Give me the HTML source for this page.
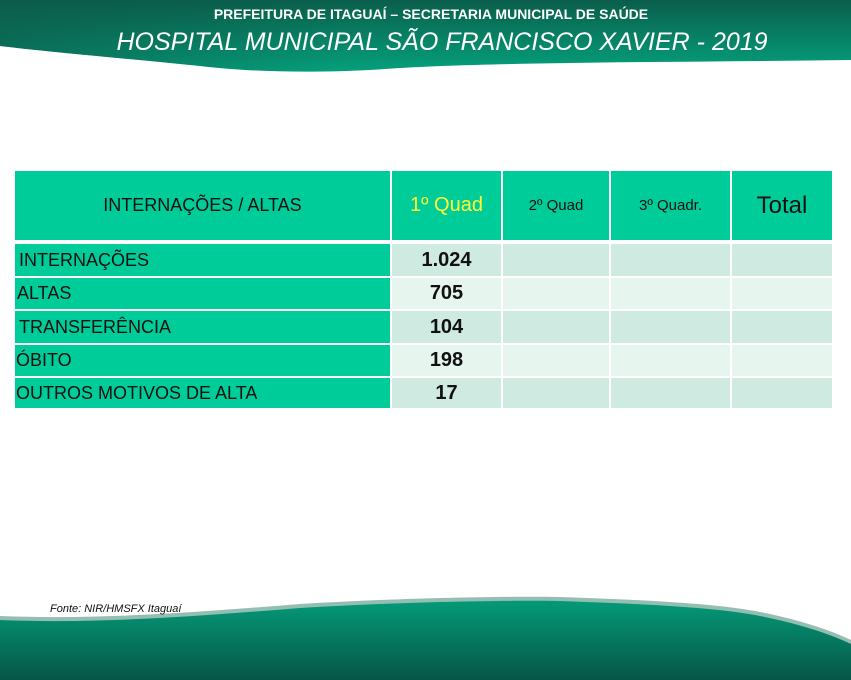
<!DOCTYPE html>
<html><head><meta charset="utf-8"><style>
body{margin:0;width:851px;height:680px;position:relative;overflow:hidden;background:#fff;font-family:"Liberation Sans",sans-serif}
.c{position:absolute;box-sizing:border-box;display:flex;align-items:center}
.t{position:absolute;color:#fff;white-space:nowrap}
</style></head><body>
<svg width="851" height="680" style="position:absolute;left:0;top:0">
<defs>
<linearGradient id="hg" x1="0" y1="0" x2="0" y2="1"><stop offset="0" stop-color="#0a5e4b"/><stop offset="1" stop-color="#05a07c"/></linearGradient>
<linearGradient id="hg2" x1="0" y1="0" x2="1" y2="0"><stop offset="0" stop-color="#0d5a49" stop-opacity=".6"/><stop offset=".4" stop-color="#0d5a49" stop-opacity="0"/></linearGradient>
<linearGradient id="fg" x1="0" y1="0" x2="0" y2="1"><stop offset="0" stop-color="#049a78"/><stop offset="1" stop-color="#075546"/></linearGradient>
</defs>
<path d="M0,0 H851 V60 C700,62 500,62 400,68 C320,74 250,72 200,66 C120,58 50,52 0,46 Z" fill="url(#hg)"/>
<path d="M0,0 H851 V60 C700,62 500,62 400,68 C320,74 250,72 200,66 C120,58 50,52 0,46 Z" fill="url(#hg2)"/>
<path d="M0,616 C100,620 200,612 300,604 C400,598 500,596 560,597 C650,600 720,604 760,612 C800,620 830,630 851,640 V680 H0 Z" fill="#2b7d68" opacity=".5"/>
<path d="M0,620 C100,624 200,616 300,608 C400,602 500,600 560,601 C650,604 720,608 760,616 C800,624 830,634 851,644 V680 H0 Z" fill="url(#fg)"/>
</svg>
<div class="t" style="left:0;width:862px;text-align:center;top:6px;font-size:14px;font-weight:bold">PREFEITURA DE ITAGUAÍ – SECRETARIA MUNICIPAL DE SAÚDE</div>
<div class="t" style="left:0;width:884px;text-align:center;top:28px;font-size:25px;font-style:italic">HOSPITAL MUNICIPAL SÃO FRANCISCO XAVIER - 2019</div>

<div class="c" style="left:15px;top:171px;width:375px;height:69px;background:#00cc99;justify-content:center;font-size:18px;color:#111">INTERNAÇÕES / ALTAS</div>
<div class="c" style="left:392px;top:171px;width:109px;height:69px;background:#00cc99;justify-content:center;font-size:20px;color:#ffff33">1º Quad</div>
<div class="c" style="left:503px;top:171px;width:106px;height:69px;background:#00cc99;justify-content:center;font-size:15px;color:#111">2º Quad</div>
<div class="c" style="left:611px;top:171px;width:119px;height:69px;background:#00cc99;justify-content:center;font-size:15px;color:#111">3º Quadr.</div>
<div class="c" style="left:732px;top:171px;width:100px;height:69px;background:#00cc99;justify-content:center;font-size:24px;color:#111">Total</div>

<div id="rows"></div>
<div class="t" style="left:50px;top:603px;font-size:11px;font-style:italic;color:#111">Fonte: NIR/HMSFX Itaguaí</div>
<script>
const labels=["INTERNAÇÕES","ALTAS","TRANSFERÊNCIA","ÓBITO","OUTROS MOTIVOS DE ALTA"];
const q1=["1.024","705","104","198","17"];
const tops=[244,278,311,345,378];
const hs=[32,31,32,31,30];
const rows=document.getElementById('rows');
labels.forEach((l,i)=>{
  const bg=i%2?'#e7f5ef':'#cfeae0';
  const a=document.createElement('div');a.className='c';
  
  
  a.style.cssText=`left:15px;top:${tops[i]}px;width:375px;height:${hs[i]}px;background:#00cc99;font-size:18px;color:#111;padding-left:${i==3||i==4?1:i==1?2:4}px`;
  a.textContent=l;rows.appendChild(a);
  const b=document.createElement('div');b.className='c';
  
  
  b.style.cssText=`left:392px;top:${tops[i]}px;width:109px;height:${hs[i]}px;background:${bg};justify-content:center;font-size:20px;font-weight:bold;color:#111`;
  b.textContent=q1[i];rows.appendChild(b);
  [[503,106],[611,119],[732,100]].forEach(([x,w])=>{
    const e=document.createElement('div');e.className='c';
    
    
    e.style.cssText=`left:${x}px;top:${tops[i]}px;width:${w}px;height:${hs[i]}px;background:${bg}`;
    rows.appendChild(e);
  });
});
</script>
</body></html>
